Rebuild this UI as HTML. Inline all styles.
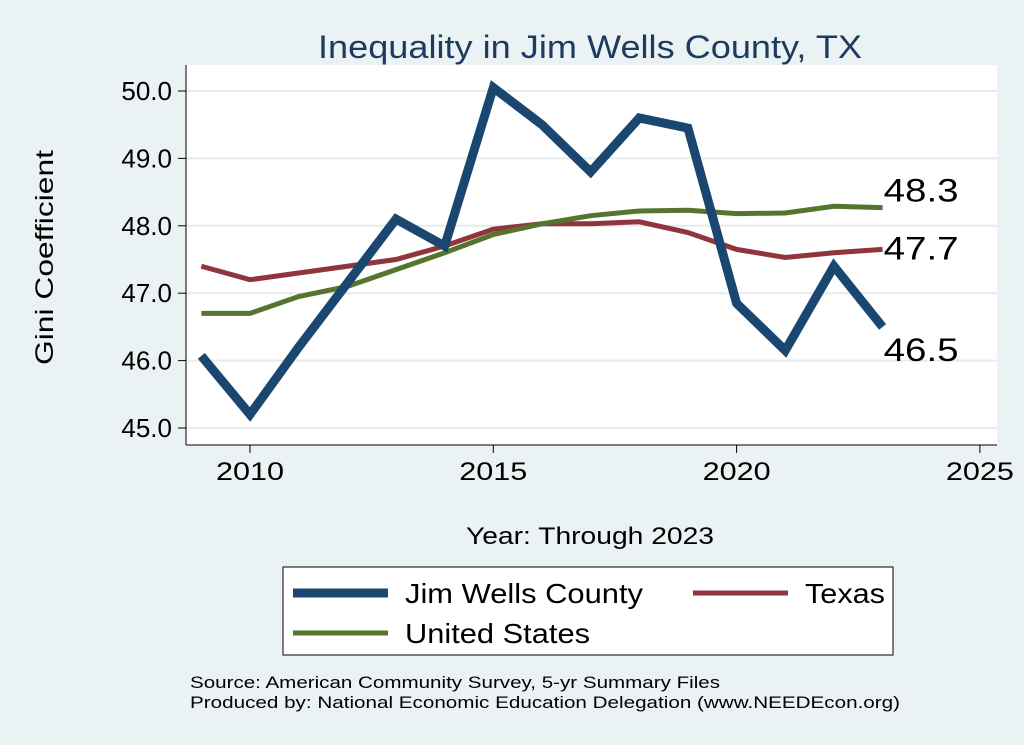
<!DOCTYPE html>
<html><head><meta charset="utf-8"><style>
body{margin:0;background:#eaf2f3;}
svg{display:block;font-family:"Liberation Sans",Arial,sans-serif;}
</style></head><body>
<svg id="c" width="1024" height="745">
<rect x="0" y="0" width="1024" height="745" fill="#eaf2f3"/>
<rect x="186" y="65" width="811" height="380" fill="#ffffff"/>
<text x="318" y="58" font-size="32" fill="#1e3a5f" textLength="544" lengthAdjust="spacingAndGlyphs">Inequality in Jim Wells County, TX</text>
<text x="466" y="544" font-size="24" fill="#000" textLength="248" lengthAdjust="spacingAndGlyphs">Year: Through 2023</text>
<text transform="translate(53,365) rotate(-90)" font-size="25" fill="#000" textLength="215" lengthAdjust="spacingAndGlyphs">Gini Coefficient</text>
<g id="grid"></g><g id="axes"></g><g id="series"></g>
<rect x="283" y="567" width="610" height="88" fill="#fff" stroke="#000" stroke-width="1"/>
<g><line x1="293" y1="593" x2="388" y2="593" stroke="#1a476f" stroke-width="9"/><text x="405" y="603" font-size="28" textLength="238" lengthAdjust="spacingAndGlyphs">Jim Wells County</text></g>
<g><line x1="693" y1="593" x2="788" y2="593" stroke="#90353b" stroke-width="5"/><text x="805" y="603" font-size="28" textLength="80" lengthAdjust="spacingAndGlyphs">Texas</text></g>
<g><line x1="293" y1="633" x2="388" y2="633" stroke="#55752f" stroke-width="5"/><text x="405" y="643" font-size="28" textLength="185" lengthAdjust="spacingAndGlyphs">United States</text></g>
<text x="190" y="688" font-size="17" textLength="530" lengthAdjust="spacingAndGlyphs">Source: American Community Survey, 5-yr Summary Files</text>
<text x="190" y="708" font-size="17" textLength="710" lengthAdjust="spacingAndGlyphs">Produced by: National Economic Education Delegation (www.NEEDEcon.org)</text>
</svg>
<script>
const years=[2009,2010,2011,2012,2013,2014,2015,2016,2017,2018,2019,2020,2021,2022,2023];
const jimWells=[46.07,45.2,46.2,47.15,48.1,47.7,50.05,49.5,48.8,49.6,49.45,46.85,46.15,47.4,46.5];
const texas=[47.4,47.2,47.3,47.4,47.5,47.7,47.95,48.03,48.03,48.06,47.9,47.65,47.53,47.6,47.65];
const unitedStates=[46.7,46.7,46.95,47.1,47.35,47.6,47.87,48.03,48.15,48.22,48.23,48.18,48.19,48.29,48.27];
const yTicks=[45,46,47,48,49,50];
const xTicks=[2010,2015,2020,2025];
const endLabels=["46.5","47.7","48.3"];
const NS="http://www.w3.org/2000/svg";
const X=v=>250+(v-2010)*48.66;
const Y=v=>428-(v-45)*67.4;
function mk(t,a,p){const e=document.createElementNS(NS,t);for(const k in a)e.setAttribute(k,a[k]);p.appendChild(e);return e;}
const grid=document.getElementById('grid'),axes=document.getElementById('axes'),ser=document.getElementById('series');
yTicks.forEach(v=>{
 const g=mk('line',{x1:186,x2:997,y1:Y(v),y2:Y(v),stroke:'#e4ecee','stroke-width':2},grid);
 
 
 mk('line',{x1:178,x2:186,y1:Y(v),y2:Y(v),stroke:'#000'},axes);
 const t=mk('text',{x:172,y:Y(v)+9,'font-size':26,'text-anchor':'end'},axes);t.textContent=v.toFixed(1);
 
 
});
mk('line',{x1:186,x2:186,y1:65,y2:445,stroke:'#000'},axes);
mk('line',{x1:186,x2:997,y1:445,y2:445,stroke:'#000'},axes);
xTicks.forEach(v=>{
 mk('line',{x1:X(v),x2:X(v),y1:445,y2:453,stroke:'#000'},axes);
 const t=mk('text',{x:X(v)-34,y:480,'font-size':25,textLength:68,lengthAdjust:'spacingAndGlyphs'},axes);t.textContent=v;
 
 
});
function line(d,c,w,name){
 const p=mk('polyline',{points:d.map((v,i)=>X(years[i])+','+Y(v)).join(' '),fill:'none',stroke:c,'stroke-width':w,'stroke-linejoin':'miter'},ser);
 
 
}
line(texas,'#90353b',5,'texas-line');
line(unitedStates,'#55752f',5,'us-line');
line(jimWells,'#1a476f',9,'jim-wells-line');
const last=years.length-1;
[[jimWells,34,0],[texas,10,1],[unitedStates,-6,2]].forEach(([d,dy,i])=>{
 const t=mk('text',{x:X(years[last])+1,y:Y(d[last])+dy,'font-size':32,textLength:75,lengthAdjust:'spacingAndGlyphs'},ser);t.textContent=endLabels[i];
 
 
});
</script>
</body></html>
